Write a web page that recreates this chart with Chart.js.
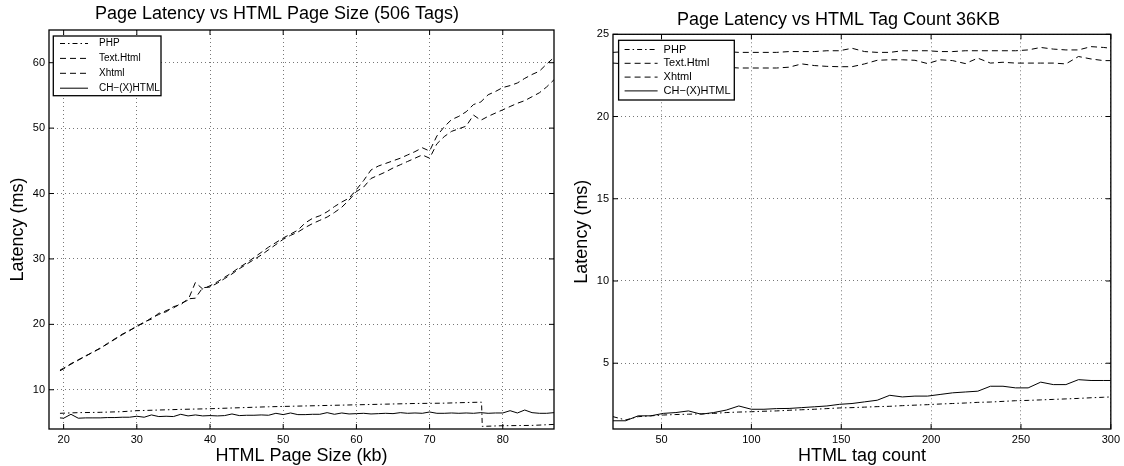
<!DOCTYPE html>
<html>
<head>
<meta charset="utf-8">
<title>Page Latency</title>
<script src="https://cdn.jsdelivr.net/npm/chart.js@4.4.1/dist/chart.umd.min.js"></script>
<style>
  body { margin: 0; background: #fff; }
  .panel { position: absolute; top: 0; width: 560px; height: 466px; }
  #left { left: 0; }
  #right { left: 564px; }
</style>
</head>
<body>
<div class="panel" id="left"><canvas id="sizeChart"></canvas></div>
<div class="panel" id="right"><canvas id="tagChart"></canvas></div>
<script>
// ---- left panel: latency vs page size (506 tags) ----
const sizeKb = [19.5, 20, 21, 22, 23, 24, 25, 26, 27, 28, 29, 30, 31, 32, 33, 34, 35, 36, 37, 38, 39, 40, 41, 42, 43, 44,
  45, 46, 47, 48, 49, 50, 51, 52, 53, 54, 55, 56, 57, 58, 59, 60, 61, 62, 63, 64, 65, 66, 67, 68, 69, 70,
  71, 72, 73, 74, 75, 76, 77, 78, 79, 80, 81, 82, 83, 84, 85, 86, 87];
const textHtmlBySize = [13.0, 13.3, 13.9, 14.6, 15.1, 15.8, 16.3, 17.1, 17.7, 18.5, 19.0, 19.8, 20.2, 21.0, 21.5, 22.1, 22.5, 23.2, 23.7, 26.4, 25.4, 25.9, 26.5, 27.2, 27.9, 28.7,
  29.4, 30.2, 31.0, 31.8, 32.5, 33.2, 33.8, 34.4, 35.5, 36.2, 36.6, 37.2, 38.0, 38.7, 39.3, 40.6, 42.0, 43.6, 44.2, 44.6, 45.0, 45.4, 45.9, 46.4, 47.0, 46.5,
  48.8, 50.2, 51.3, 51.8, 52.5, 53.6, 54.0, 55.1, 55.6, 56.2, 56.5, 56.9, 57.6, 58.2, 58.7, 59.8, 60.8];
const xhtmlBySize = [12.9, 13.2, 14.0, 14.5, 15.2, 15.7, 16.4, 17.0, 17.8, 18.4, 19.1, 19.6, 20.4, 20.8, 21.7, 21.9, 22.7, 23.0, 23.9, 24.0, 25.6, 25.7, 26.3, 27.0, 27.7, 28.5,
  29.2, 29.9, 30.6, 31.4, 32.2, 33.0, 33.6, 34.1, 34.8, 35.4, 35.9, 36.4, 37.1, 37.9, 39.0, 40.3, 41.0, 42.3, 42.8, 43.3, 43.9, 44.4, 44.9, 45.4, 45.9, 45.4,
  47.6, 48.7, 49.5, 49.9, 50.3, 52.0, 51.2, 51.8, 52.3, 52.8, 53.3, 53.8, 54.2, 54.8, 55.4, 56.3, 57.4];
const chBySize = [5.7, 5.65, 6.25, 5.65, 5.7, 5.7, 5.7, 5.75, 5.75, 5.8, 5.8, 5.95, 5.8, 6.15, 5.9, 5.95, 5.9, 6.25, 6.0, 6.15, 6.0, 6.05, 6.0, 6.05, 6.3, 6.05,
  6.1, 6.1, 6.15, 6.1, 6.4, 6.2, 6.45, 6.2, 6.2, 6.25, 6.25, 6.5, 6.25, 6.45, 6.3, 6.35, 6.4, 6.3, 6.35, 6.4, 6.35, 6.5, 6.4, 6.45, 6.4, 6.6,
  6.4, 6.4, 6.45, 6.4, 6.45, 6.4, 6.5, 6.4, 6.45, 6.45, 6.8, 6.45, 6.9, 6.5, 6.4, 6.4, 6.5];
const phpSizeKb = [19.5, 22, 25, 28, 30, 33, 36, 40, 44, 48, 52, 56, 60, 64, 68, 72, 75, 77.1, 77.2, 80, 84, 87];
const phpBySize = [6.4, 6.5, 6.55, 6.65, 6.8, 6.9, 7.0, 7.1, 7.25, 7.4, 7.5, 7.6, 7.7, 7.8, 7.9, 7.95, 8.05, 8.1, 4.4, 4.5, 4.55, 4.7];
const sizeTicks = [20, 30, 40, 50, 60, 70, 80];
const sizeLatencyTicks = [10, 20, 30, 40, 50, 60];

// ---- right panel: latency vs tag count (36KB) ----
const tagCount = [23, 30, 37, 44, 51, 58, 65, 72, 79, 86, 93, 100, 107, 114, 121, 128, 135, 142, 149, 156, 163,
  170, 177, 184, 191, 198, 205, 212, 219, 226, 233, 240, 247, 254, 261, 268, 275, 282, 289, 296, 300];
const textHtmlByTags = [23.9, 23.95, 23.9, 23.95, 23.9, 23.95, 23.9, 23.95, 23.95, 23.95, 23.9, 23.9, 23.9, 23.9, 23.95, 23.95, 23.95, 24.0, 24.0, 24.15, 23.95,
  23.9, 23.9, 24.0, 24.0, 24.0, 23.95, 23.95, 24.0, 24.0, 24.0, 24.0, 24.0, 24.05, 24.2, 24.1, 24.05, 24.05, 24.25, 24.2, 24.15];
const xhtmlByTags = [23.25, 23.2, 23.1, 23.05, 23.0, 23.0, 23.0, 23.0, 23.0, 23.0, 22.95, 22.95, 22.95, 22.95, 23.0, 23.2, 23.1, 23.05, 23.03, 23.03, 23.2,
  23.42, 23.45, 23.45, 23.42, 23.22, 23.45, 23.4, 23.22, 23.55, 23.25, 23.3, 23.25, 23.25, 23.25, 23.25, 23.2, 23.65, 23.5, 23.4, 23.4];
const chByTags = [1.5, 1.5, 1.8, 1.8, 1.95, 2.0, 2.1, 1.9, 2.0, 2.15, 2.4, 2.2, 2.2, 2.24, 2.25, 2.3, 2.35, 2.4, 2.5, 2.55, 2.65,
  2.75, 3.05, 2.95, 3.0, 3.0, 3.1, 3.2, 3.25, 3.3, 3.6, 3.6, 3.5, 3.5, 3.85, 3.7, 3.7, 4.0, 3.95, 3.95, 3.95];
const phpByTags = [1.75, 1.55, 1.75, 1.8, 1.85, 1.88, 1.9, 1.92, 1.95, 2.0, 2.03, 2.05, 2.08, 2.1, 2.14, 2.17, 2.2, 2.24, 2.28, 2.3, 2.33,
  2.36, 2.38, 2.42, 2.45, 2.48, 2.52, 2.55, 2.58, 2.62, 2.64, 2.68, 2.72, 2.74, 2.77, 2.8, 2.83, 2.86, 2.9, 2.93, 2.95];
const tagTicks = [50, 100, 150, 200, 250, 300];
const tagLatencyTicks = [5, 10, 15, 20, 25];

const FONT = '"Liberation Sans", Arial, Helvetica, sans-serif';
const DASH_DOT = [5, 3, 1.5, 3];
const DASHED = [6, 4];

function pairs(xs, ys) {
  return xs.map((x, i) => ({ x, y: ys[i] }));
}

function series(label, xs, ys, dash) {
  return {
    label,
    data: pairs(xs, ys),
    borderColor: '#000',
    borderWidth: 1,
    borderDash: dash,
    pointRadius: 0,
    tension: 0,
    fill: false
  };
}

// MATLAB style: boxed axes, inward ticks, framed legend inside the plot
const matlabFrame = {
  id: 'matlabFrame',
  afterDatasetsDraw(chart, args, opts) {
    const { ctx, chartArea: a, scales } = chart;
    ctx.save();
    ctx.setLineDash([]);
    ctx.strokeStyle = '#000';
    ctx.lineWidth = 1;
    ctx.beginPath();
    scales.x.ticks.forEach(t => {
      const px = scales.x.getPixelForValue(t.value);
      ctx.moveTo(px, a.bottom); ctx.lineTo(px, a.bottom - 5);
      ctx.moveTo(px, a.top); ctx.lineTo(px, a.top + 5);
    });
    scales.y.ticks.forEach(t => {
      const py = scales.y.getPixelForValue(t.value);
      ctx.moveTo(a.left, py); ctx.lineTo(a.left + 5, py);
      ctx.moveTo(a.right, py); ctx.lineTo(a.right - 5, py);
    });
    ctx.stroke();
    ctx.lineWidth = 1.3;
    ctx.strokeRect(a.left, a.top, a.right - a.left, a.bottom - a.top);

    const bx = a.left + opts.dx, by = a.top + opts.dy;
    ctx.fillStyle = '#fff';
    ctx.fillRect(bx, by, opts.w, opts.h);
    ctx.lineWidth = 1.3;
    ctx.strokeRect(bx, by, opts.w, opts.h);
    ctx.font = opts.size + 'px ' + FONT;
    ctx.textBaseline = 'middle';
    ctx.textAlign = 'left';
    chart.data.datasets.forEach((ds, i) => {
      const y = by + opts.first + i * opts.row;
      ctx.lineWidth = 1;
      ctx.setLineDash(ds.borderDash || []);
      ctx.beginPath();
      ctx.moveTo(bx + opts.x0, y);
      ctx.lineTo(bx + opts.x1, y);
      ctx.stroke();
      ctx.setLineDash([]);
      ctx.fillStyle = '#000';
      ctx.fillText(ds.label, bx + opts.tx, y);
    });
    ctx.restore();
  }
};

function axis(min, max, tickValues, title, titlePad, extra) {
  return Object.assign({
    type: 'linear',
    min, max,
    afterBuildTicks: scale => { scale.ticks = tickValues.map(v => ({ value: v })); },
    grid: { color: '#777', lineWidth: 1, drawTicks: false, borderDash: [1, 3] },
    border: { display: false, dash: [1, 3] },
    ticks: { color: '#000', font: { family: FONT, size: 11 }, padding: 4, maxRotation: 0 },
    title: {
      display: true, text: title, color: '#000',
      font: { family: FONT, size: 18, lineHeight: 1 },
      padding: titlePad
    }
  }, extra);
}

function makeChart(id, cfg) {
  return new Chart(document.getElementById(id), {
    type: 'line',
    data: { datasets: cfg.datasets },
    options: {
      responsive: true,
      maintainAspectRatio: false,
      animation: false,
      layout: { padding: { left: 0, right: cfg.padRight, top: 0, bottom: 0 } },
      plugins: {
        legend: { display: false },
        tooltip: { enabled: false },
        title: {
          display: true,
          text: cfg.title,
          color: '#000',
          font: { family: FONT, size: 18, weight: 'normal' },
          padding: cfg.titlePad
        },
        matlabFrame: cfg.legend
      },
      scales: {
        x: axis(cfg.xMin, cfg.xMax, cfg.xTicks, cfg.xTitle, { top: 4, bottom: 1 }, {
          afterFit: s => { s.height = 37; }
        }),
        y: axis(cfg.yMin, cfg.yMax, cfg.yTicks, 'Latency (ms)', { top: 9, bottom: 4 }, {
          afterFit: s => { s.width = 49; }
        })
      }
    },
    plugins: [matlabFrame]
  });
}

makeChart('sizeChart', {
  title: 'Page Latency vs HTML Page Size (506 Tags)',
  titlePad: { top: 3.5, bottom: 4.9 },
  padRight: 6,
  xMin: 18, xMax: 87, xTicks: sizeTicks, xTitle: 'HTML Page Size (kb)',
  yMin: 4, yMax: 65, yTicks: sizeLatencyTicks,
  datasets: [
    series('PHP', phpSizeKb, phpBySize, DASH_DOT),
    series('Text.Html', sizeKb, textHtmlBySize, DASHED),
    series('Xhtml', sizeKb, xhtmlBySize, DASHED),
    series('CH\u2212(X)HTML', sizeKb, chBySize, [])
  ],
  legend: { dx: 4.3, dy: 6, w: 107.7, h: 59.7, first: 7.5, row: 14.9, x0: 6.7, x1: 34.7, tx: 45.7, size: 10 }
});

makeChart('tagChart', {
  title: 'Page Latency vs HTML Tag Count 36KB',
  titlePad: { top: 9, bottom: 3.7 },
  padRight: 11,
  xMin: 23, xMax: 300, xTicks: tagTicks, xTitle: 'HTML tag count',
  yMin: 1, yMax: 25, yTicks: tagLatencyTicks,
  datasets: [
    series('PHP', tagCount, phpByTags, DASH_DOT),
    series('Text.Html', tagCount, textHtmlByTags, DASHED),
    series('Xhtml', tagCount, xhtmlByTags, DASHED),
    series('CH\u2212(X)HTML', tagCount, chByTags, [])
  ],
  legend: { dx: 5.6, dy: 6, w: 115.7, h: 59.7, first: 9.2, row: 13.8, x0: 6, x1: 39, tx: 45, size: 11 }
});
</script>
</body>
</html>
